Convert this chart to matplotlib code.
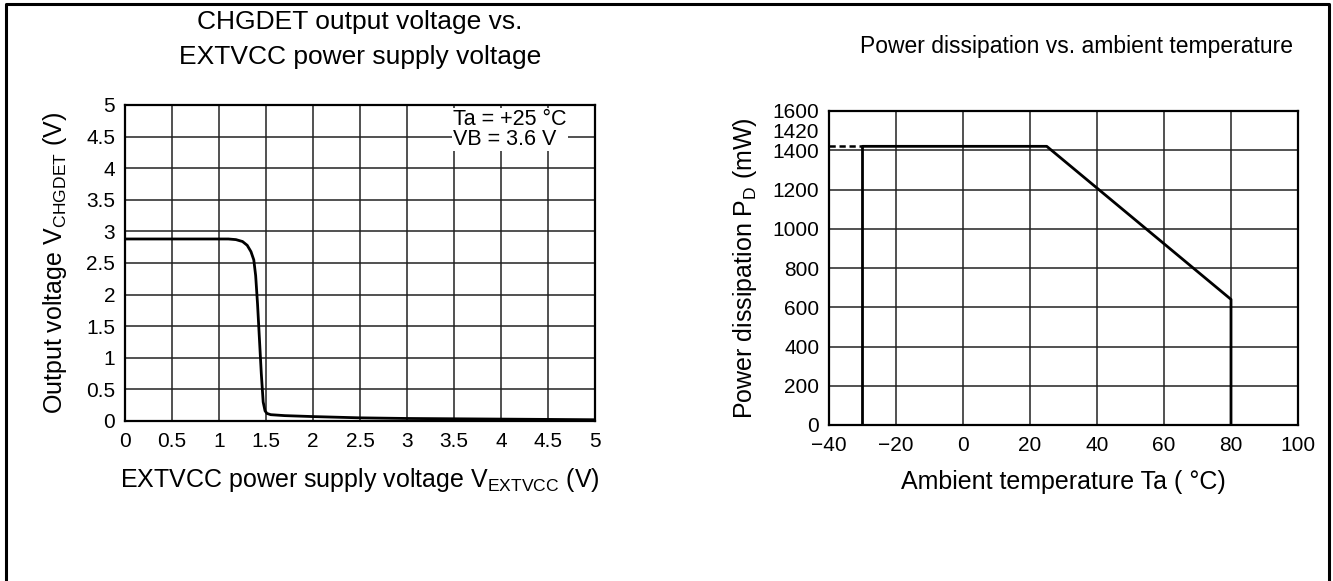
import numpy as np
import matplotlib
matplotlib.use("Agg")
import matplotlib.pyplot as plt
from matplotlib.lines import Line2D

plt.rcParams['font.family'] = ['Liberation Sans', 'DejaVu Sans']
plt.rcParams['mathtext.fontset'] = 'custom'
plt.rcParams['mathtext.rm'] = 'Liberation Sans'
plt.rcParams['axes.unicode_minus'] = True

# CHGDET output voltage vs EXTVCC supply
vext = [0, 0.5, 1.0, 1.1, 1.18, 1.25, 1.30, 1.34, 1.37, 1.39, 1.41, 1.43,
        1.45, 1.47, 1.49, 1.51, 1.55, 1.7, 2.0, 2.5, 3.0, 3.5, 4.0, 4.5, 5.0]
vchg = [2.88, 2.88, 2.88, 2.88, 2.87, 2.84, 2.78, 2.68, 2.55, 2.30, 1.85, 1.30,
        0.75, 0.30, 0.16, 0.12, 0.10, 0.085, 0.07, 0.05, 0.04, 0.035, 0.03, 0.025, 0.02]

# power dissipation derating curve
ta_dash = [-40, -30]
pd_dash = [1420, 1420]
ta_solid = [-30, -30, 25, 80, 80]
pd_solid = [0, 1420, 1420, 640, 0]

W, H = 1333, 581
fig = plt.figure(figsize=(W / 100, H / 100), dpi=100)

# outer frame (left, top, right)
fig.add_artist(Line2D([6 / W, 6 / W, 1329 / W, 1329 / W],
                      [0, 1 - 4 / H, 1 - 4 / H, 0],
                      transform=fig.transFigure, color='black', lw=2.2))

grid_kw = dict(color='#222222', lw=1.1)
TICK = 15
LAB = 18

# ---- left chart
ax1 = fig.add_axes([125 / W, 1 - 421 / H, 470 / W, 316 / H])
ax1.plot(vext, vchg, color='black', lw=2.0, solid_capstyle='round', zorder=3)
ax1.set_xlim(0, 5)
ax1.set_ylim(0, 5)
ax1.set_xticks(np.arange(0, 5.01, 0.5))
ax1.set_yticks(np.arange(0, 5.01, 0.5))
ax1.set_xticklabels(['0', '0.5', '1', '1.5', '2', '2.5', '3', '3.5', '4', '4.5', '5'])
ax1.set_yticklabels(['0', '0.5', '1', '1.5', '2', '2.5', '3', '3.5', '4', '4.5', '5'])
ax1.grid(True, **grid_kw)
ax1.set_axisbelow(True)
ax1.tick_params(axis='x', length=0, labelsize=TICK, pad=8)
ax1.tick_params(axis='y', length=0, labelsize=TICK, pad=7)
ax1.set_xlabel(r'EXTVCC power supply voltage V$\mathregular{_{EXTVCC}}$ (V)',
               fontsize=LAB, labelpad=11)
ax1.set_ylabel(r'Output voltage V$\mathregular{_{CHGDET}}$ (V)', fontsize=LAB, labelpad=12)
ax1.text(0.698, 0.988, 'Ta = +25 °C\nVB = 3.6 V', transform=ax1.transAxes,
         ha='left', va='top', fontsize=15.5, linespacing=0.92,
         bbox=dict(facecolor='white', edgecolor='none', pad=1.0), zorder=4)
fig.text(360 / W, 1 - 22 / H, 'CHGDET output voltage vs.',
         ha='center', va='center', fontsize=19)
fig.text(360 / W, 1 - 57 / H, 'EXTVCC power supply voltage',
         ha='center', va='center', fontsize=19)

# ---- right chart
ax2 = fig.add_axes([829 / W, 1 - 425 / H, 469 / W, 314 / H])
ax2.plot(ta_dash, pd_dash, color='black', lw=1.8, ls=(0, (2.5, 1.5)), zorder=3)
ax2.plot(ta_solid, pd_solid, color='black', lw=2.0, zorder=3)
ax2.set_xlim(-40, 100)
ax2.set_ylim(0, 1600)
ax2.set_xticks(np.arange(-40, 101, 20))
ax2.set_yticks(np.arange(0, 1601, 200))
ax2.grid(True, **grid_kw)
ax2.set_axisbelow(True)
ax2.tick_params(axis='x', length=0, labelsize=TICK, pad=8)
ax2.tick_params(axis='y', length=0, labelsize=TICK, pad=7)
ax2.annotate('1420', xy=(0, 1420), xycoords=('axes fraction', 'data'),
             xytext=(-7, 10), textcoords='offset points',
             ha='right', va='center', fontsize=TICK)
ax2.set_xlabel('Ambient temperature Ta ( °C)', fontsize=LAB, labelpad=11)
ax2.set_ylabel(r'Power dissipation P$\mathregular{_{D}}$ (mW)', fontsize=LAB, labelpad=10)
fig.text(1077 / W, 1 - 46 / H, 'Power dissipation vs. ambient temperature',
         ha='center', va='center', fontsize=16.5)

for ax in (ax1, ax2):
    for s in ax.spines.values():
        s.set_linewidth(1.6)

fig.savefig('out.png', dpi=100)
